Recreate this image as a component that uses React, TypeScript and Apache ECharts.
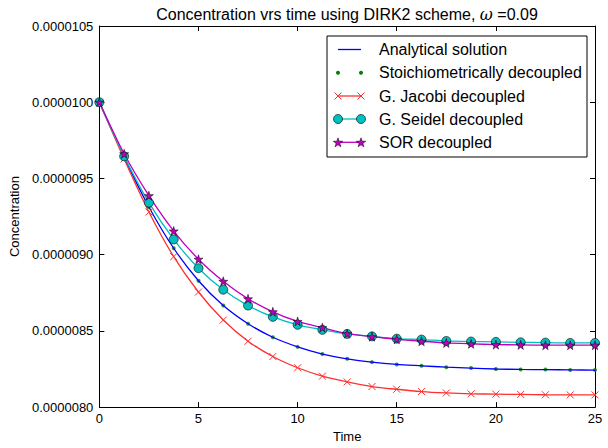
import React, { useEffect, useRef } from "react";
import * as echarts from "echarts";

// Time points
const TIME = [0, 1.25, 2.5, 3.75, 5, 6.25, 7.5, 8.75, 10, 11.25, 12.5, 13.75, 15, 16.25, 17.5, 18.75, 20, 21.25, 22.5, 23.75, 25];
// Concentrations, in units of 1e-7
const ANALYTICAL = [100, 96.4, 93.13, 90.42, 88.29, 86.66, 85.47, 84.58, 83.95, 83.48, 83.17, 82.95, 82.8, 82.71, 82.62, 82.56, 82.5, 82.47, 82.46, 82.44, 82.43];
const STOICH = [100, 96.4, 93.13, 90.42, 88.29, 86.66, 85.47, 84.58, 83.95, 83.48, 83.17, 82.95, 82.8, 82.71, 82.62, 82.56, 82.5, 82.47, 82.46, 82.44, 82.43];
const JACOBI = [100, 96.28, 92.8, 89.87, 87.55, 85.71, 84.32, 83.32, 82.58, 82.03, 81.65, 81.35, 81.17, 81.02, 80.93, 80.87, 80.85, 80.83, 80.81, 80.8, 80.8];
const SEIDEL = [100, 96.45, 93.41, 91.0, 89.11, 87.7, 86.66, 85.92, 85.4, 85.07, 84.8, 84.64, 84.49, 84.43, 84.34, 84.3, 84.28, 84.25, 84.23, 84.21, 84.21];
const SOR = [100, 96.62, 93.87, 91.55, 89.7, 88.25, 87.1, 86.25, 85.62, 85.21, 84.82, 84.62, 84.45, 84.32, 84.21, 84.15, 84.1, 84.08, 84.06, 84.06, 84.06];
const SCALE = 1e-7;
const X_TICKS = [0, 5, 10, 15, 20, 25];
const Y_MIN = 80;
const Y_MAX = 105;

const FONT = "'Liberation Sans', Arial, sans-serif";
const C_BLUE = "#0000FF";
const C_GREEN = "#008000";
const C_RED = "#FF3030";
const C_CYAN = "#00BFBF";
const C_MAG = "#BF00BF";
const STAR = "path://M50,0 L61,35 L98,35 L68,57 L79,91 L50,70 L21,91 L32,57 L2,35 L39,35 Z";
const XMARK = "path://M0,0 L10,10 M10,0 L0,10";
const LW = 1.3;

const pair = (ys: number[]) => TIME.map((t, i) => [t, ys[i]]);

function starPoints(cx: number, cy: number, r: number) {
  const pts: number[][] = [];
  for (let i = 0; i < 10; i++) {
    const rr = i % 2 === 0 ? r : r * 0.4;
    const a = -Math.PI / 2 + (i * Math.PI) / 5;
    pts.push([cx + rr * Math.cos(a), cy + rr * Math.sin(a)]);
  }
  return pts;
}

function legendGraphic() {
  const bx = 327, by = 36, bw = 260, bh = 121;
  const rows = [49.5, 72.7, 96, 119, 142.3];
  const x1 = 338, x2 = 361, tx = 379;
  const names = ["Analytical solution", "Stoichiometrically decoupled", "G. Jacobi decoupled", "G. Seidel decoupled", "SOR decoupled"];
  const els: any[] = [
    { type: "rect", shape: { x: bx, y: by, width: bw, height: bh }, style: { fill: "#fff", stroke: "#000", lineWidth: 1 }, z: 100 },
  ];
  names.forEach((n, i) => {
    els.push({ type: "text", x: tx, y: rows[i], style: { text: n, font: `16px ${FONT}`, fill: "#000", verticalAlign: "middle" }, z: 101 });
  });
  els.push({ type: "line", shape: { x1, y1: rows[0], x2, y2: rows[0] }, style: { stroke: C_BLUE, lineWidth: LW }, z: 101 });
  [x1, x2].forEach((x) => els.push({ type: "circle", shape: { cx: x, cy: rows[1], r: 2 }, style: { fill: C_GREEN }, z: 101 }));
  els.push({ type: "line", shape: { x1, y1: rows[2], x2, y2: rows[2] }, style: { stroke: C_RED, lineWidth: LW }, z: 101 });
  [x1, x2].forEach((x) => {
    els.push({ type: "line", shape: { x1: x - 3.5, y1: rows[2] - 3.5, x2: x + 3.5, y2: rows[2] + 3.5 }, style: { stroke: C_RED, lineWidth: 1 }, z: 102 });
    els.push({ type: "line", shape: { x1: x - 3.5, y1: rows[2] + 3.5, x2: x + 3.5, y2: rows[2] - 3.5 }, style: { stroke: C_RED, lineWidth: 1 }, z: 102 });
  });
  els.push({ type: "line", shape: { x1, y1: rows[3], x2, y2: rows[3] }, style: { stroke: C_CYAN, lineWidth: LW }, z: 101 });
  [x1, x2].forEach((x) => els.push({ type: "circle", shape: { cx: x, cy: rows[3], r: 4.5 }, style: { fill: C_CYAN, stroke: "#000", lineWidth: 0.6 }, z: 102 }));
  els.push({ type: "line", shape: { x1, y1: rows[4], x2, y2: rows[4] }, style: { stroke: C_MAG, lineWidth: LW }, z: 101 });
  [x1, x2].forEach((x) => els.push({ type: "polygon", shape: { points: starPoints(x, rows[4] + 0.5, 5) }, style: { fill: C_MAG, stroke: "#000", lineWidth: 0.5 }, z: 102 }));
  return els;
}

export default function App() {
  const ref = useRef<HTMLDivElement>(null);
  useEffect(() => {
    if (!ref.current) return;
    const chart = echarts.init(ref.current, null, { renderer: "svg" });
    const axisCommon = {
      axisLine: { show: true, onZero: false, lineStyle: { color: "#000", width: 1 } },
      axisTick: { show: true, inside: true, length: 5, lineStyle: { color: "#000" } },
      splitLine: { show: false },
    };
    const lineSeries = (name: string, ys: number[], color: string, extra: any) => ({
      name,
      type: "line",
      data: pair(ys),
      smooth: 0.25,
      lineStyle: { color, width: LW },
      itemStyle: { color },
      emphasis: { disabled: true },
      ...extra,
    });
    chart.setOption({
      animation: false,
      backgroundColor: "#fff",
      textStyle: { fontFamily: FONT },
      grid: { left: 98, right: 13, top: 26, bottom: 38, show: false },
      xAxis: [
        {
          type: "value",
          min: X_TICKS[0],
          max: X_TICKS[X_TICKS.length - 1],
          interval: 5,
          position: "bottom",
          ...axisCommon,
          axisLabel: { color: "#000", fontSize: 13, fontFamily: FONT, margin: 5 },
          name: "Time",
          nameLocation: "middle",
          nameGap: 22,
          nameTextStyle: { color: "#000", fontSize: 13, fontFamily: FONT },
        },
        {
          type: "value",
          min: X_TICKS[0],
          max: X_TICKS[X_TICKS.length - 1],
          interval: 5,
          position: "top",
          ...axisCommon,
          axisLabel: { show: false },
        },
      ],
      yAxis: [
        {
          type: "value",
          min: Y_MIN,
          max: Y_MAX,
          interval: 5,
          position: "left",
          ...axisCommon,
          axisLabel: {
            color: "#000",
            fontSize: 13,
            fontFamily: FONT,
            margin: 6,
            formatter: (v: number) => (v * SCALE).toFixed(7),
          },
          name: "Concentration",
          nameLocation: "middle",
          nameRotate: 90,
          nameGap: 67,
          nameTextStyle: { color: "#000", fontSize: 13, fontFamily: FONT },
        },
        {
          type: "value",
          min: Y_MIN,
          max: Y_MAX,
          interval: 5,
          position: "right",
          ...axisCommon,
          axisLabel: { show: false },
        },
      ],
      series: [
        lineSeries("Analytical solution", ANALYTICAL, C_BLUE, { showSymbol: false, symbol: "none" }),
        {
          name: "Stoichiometrically decoupled",
          type: "scatter",
          data: pair(STOICH),
          symbol: "circle",
          symbolSize: 4,
          itemStyle: { color: C_GREEN },
          emphasis: { disabled: true },
        },
        lineSeries("G. Jacobi decoupled", JACOBI, C_RED, {
          symbol: XMARK,
          symbolSize: 7,
          showAllSymbol: true,
          itemStyle: { color: "none", borderColor: C_RED, borderWidth: 1 },
        }),
        lineSeries("G. Seidel decoupled", SEIDEL, C_CYAN, {
          symbol: "circle",
          symbolSize: 9,
          showAllSymbol: true,
          itemStyle: { color: C_CYAN, borderColor: "#000", borderWidth: 0.6 },
        }),
        lineSeries("SOR decoupled", SOR, C_MAG, {
          symbol: STAR,
          symbolSize: 9,
          showAllSymbol: true,
          itemStyle: { color: C_MAG, borderColor: "#000", borderWidth: 0.5 },
        }),
      ],
      graphic: [
        {
          type: "text",
          x: 347,
          y: 14,
          style: {
            text: "{a|Concentration vrs time using DIRK2 scheme, }{w|ω}{b| =0.09}",
            align: "center",
            verticalAlign: "middle",
            rich: {
              a: { fontSize: 16, fontFamily: FONT, fill: "#000" },
              w: { fontSize: 16, fontFamily: "'DejaVu Serif', serif", fontStyle: "italic", fill: "#000" },
              b: { fontSize: 16, fontFamily: FONT, fill: "#000" },
            },
          },
        },
        ...legendGraphic(),
      ],
    });
    return () => chart.dispose();
  }, []);
  return <div ref={ref} style={{ position: "fixed", left: 0, top: 0, width: 608, height: 448 }} />;
}
